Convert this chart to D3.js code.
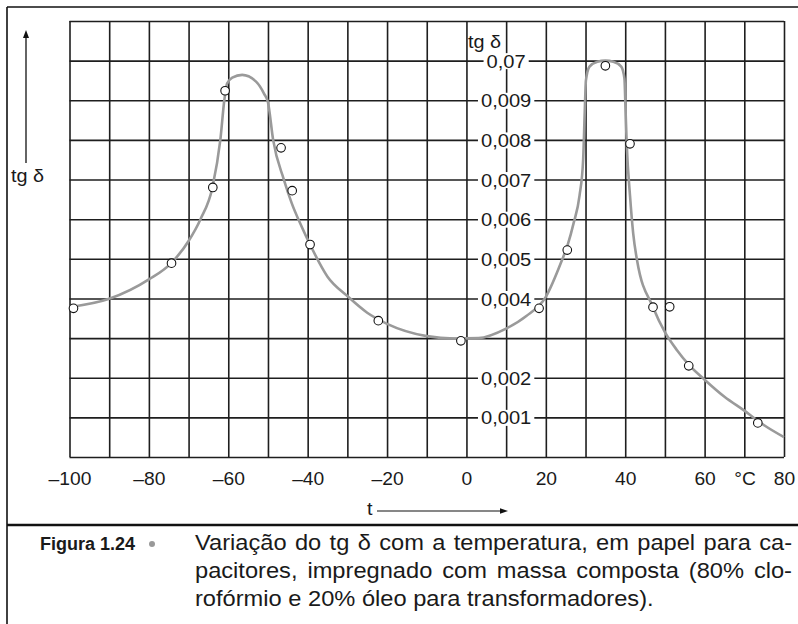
<!DOCTYPE html>
<html>
<head>
<meta charset="utf-8">
<script src="https://cdn.jsdelivr.net/npm/d3@7"></script>
<style>
  body { margin: 0; background: #fff; }
  text { font-family: "Liberation Sans", Arial, sans-serif; fill: #1a1a1a; }
</style>
</head>
<body>
<svg></svg>
<script>
// measured curve (t in °C, tg delta)
const curveT  = [-100, -90, -80, -74.3, -70, -67, -64, -62, -61, -60.3, -59, -56.5, -53, -51, -50, -48.7, -46, -44, -41.5, -39.4, -35, -30, -25, -20, -10, -3, 3, 10, 15, 20, 24, 25.5, 27, 28.5, 29.4, 29.8, 30.1, 31, 33, 35, 37, 39, 39.8, 40.1, 40.4, 41.2, 42, 43, 47, 50, 53, 56, 60, 65, 70, 75, 80];
const curveTg = [0.00378, 0.00399, 0.00448, 0.0049, 0.00545, 0.0060, 0.0068, 0.0080, 0.0090, 0.00942, 0.00957, 0.00964, 0.00947, 0.00917, 0.00895, 0.0080, 0.0070, 0.0064, 0.00581, 0.00536, 0.00455, 0.00406, 0.00364, 0.00336, 0.00305, 0.00299, 0.0030, 0.00324, 0.00355, 0.00404, 0.00495, 0.00535, 0.0059, 0.0066, 0.0075, 0.0087, 0.0095, 0.00985, 0.00997, 0.0100, 0.00997, 0.00985, 0.00955, 0.0087, 0.00785, 0.0066, 0.00565, 0.00495, 0.00378, 0.00315, 0.0027, 0.00233, 0.00195, 0.00152, 0.00117, 0.0008, 0.0005];

// measured points
const pointT  = [-99, -74.3, -63.9, -60.8, -46.7, -43.9, -39.4, -22.2, -1.4, 18.3, 25.4, 35.0, 41.2, 47.0, 51.2, 56.0, 73.4];
const pointTg = [0.00375, 0.00489, 0.0068, 0.00924, 0.0078, 0.00672, 0.00536, 0.00344, 0.00293, 0.00375, 0.00522, 0.00987, 0.0079, 0.00378, 0.00379, 0.0023, 0.00086];

const xTickValues = [-100, -80, -60, -40, -20, 0, 20, 40, 60, 80];
const xTickLabels = ['–100', '–80', '–60', '–40', '–20', '0', '20', '40', '60', '80'];
const yTickValues = [0.010, 0.009, 0.008, 0.007, 0.006, 0.005, 0.004, 0.002, 0.001];
const yTickLabels = ['0,07', '0,009', '0,008', '0,007', '0,006', '0,005', '0,004', '0,002', '0,001'];

const captionHead = 'Figura 1.24';
const captionLines = [
  'Variação do tg δ com a temperatura, em papel para ca-',
  'pacitores, impregnado com massa composta (80% clo-',
  'rofórmio e 20% óleo para transformadores).'
];

const width = 798, height = 624, sx = 1.1;
const x = d3.scaleLinear().domain([-100, 80]).range([69.5, 784]);
const y = d3.scaleLinear().domain([0, 0.011]).range([457, 21]);

const svg = d3.select('svg').attr('width', width).attr('height', height);

// frame
svg.append('line').attr('x1', 7).attr('y1', 7).attr('x2', width).attr('y2', 7)
    .attr('stroke', '#111').attr('stroke-width', 1.6);
svg.append('line').attr('x1', 7).attr('y1', 7).attr('x2', 7).attr('y2', height)
    .attr('stroke', '#111').attr('stroke-width', 1.6);
svg.append('line').attr('x1', 7).attr('y1', 525).attr('x2', width).attr('y2', 525)
    .attr('stroke', '#111').attr('stroke-width', 2.6);

// grid
let gx = svg.append('g').attr('transform', `translate(0,${y(0)})`)
    .call(d3.axisBottom(x).ticks(18).tickSize(-(y(0) - y(0.011))).tickFormat(''));
let gy = svg.append('g').attr('transform', `translate(${x(-100)},0)`)
    .call(d3.axisLeft(y).ticks(11).tickSize(-(x(80) - x(-100))).tickFormat(''));
[gx, gy].forEach(g => {
    g.select('.domain').remove();
    g.selectAll('line').attr('stroke', '#1e1e1e').attr('stroke-width', 1.6);
});

// y labels on the t=10 line
let yl = svg.append('g').attr('transform', `translate(${x(10)},0)`)
    .call(d3.axisRight(y).tickValues(yTickValues).tickSize(0).tickPadding(0)
        .tickFormat((d, i) => yTickLabels[i]));
yl.select('.domain').remove();
yl.selectAll('text')
    .attr('x', 0).attr('dy', null).attr('y', 6.6)
    .attr('text-anchor', 'middle')
    .attr('transform', `scale(${sx},1)`)
    .style('font-family', '"Liberation Sans", Arial, sans-serif')
    .style('font-size', '18.3px').attr('fill', '#1a1a1a');
yl.selectAll('.tick').each(function() {
    let t = d3.select(this).select('text');
    let w = t.node().getComputedTextLength() * sx;
    d3.select(this).insert('rect', 'text')
        .attr('x', -w / 2 - 3).attr('y', -8).attr('width', w + 6).attr('height', 16)
        .attr('fill', '#fff');
});

// x labels
let xl = svg.append('g').attr('transform', `translate(0,${y(0)})`)
    .call(d3.axisBottom(x).tickValues(xTickValues).tickSize(0)
        .tickFormat((d, i) => xTickLabels[i]));
xl.select('.domain').remove();
xl.selectAll('text')
    .attr('y', 28).attr('dy', null)
    .attr('transform', `scale(${sx},1)`)
    .style('font-family', '"Liberation Sans", Arial, sans-serif')
    .style('font-size', '17.5px').attr('fill', '#1a1a1a');

svg.append('text').attr('transform', `translate(745,485) scale(${sx},1)`)
    .attr('text-anchor', 'middle').style('font-size', '17.5px').text('°C');

// axis names
svg.append('text').attr('transform', `translate(468,48) scale(${sx},1)`)
    .style('font-size', '18px').text('tg δ');
svg.append('text').attr('transform', `translate(11,182) scale(${sx},1)`)
    .style('font-size', '18px').text('tg δ');
svg.append('text').attr('transform', `translate(367,515) scale(${sx},1)`)
    .style('font-size', '18px').text('t');

// arrows
svg.append('line').attr('x1', 26).attr('y1', 163).attr('x2', 26).attr('y2', 37)
    .attr('stroke', '#111').attr('stroke-width', 1.3);
svg.append('path').attr('d', 'M26,30 L23,38 L29,38 Z').attr('fill', '#111');
svg.append('line').attr('x1', 377).attr('y1', 511).attr('x2', 501).attr('y2', 511)
    .attr('stroke', '#111').attr('stroke-width', 1.2);
svg.append('path').attr('d', 'M508,511 L500,508.3 L500,513.7 Z').attr('fill', '#111');

// curve
let line = d3.line().x((d, i) => x(curveT[i])).y(d => y(d)).curve(d3.curveMonotoneX);
svg.append('path').datum(curveTg).attr('d', line)
    .attr('fill', 'none').attr('stroke', '#9a9a9a').attr('stroke-width', 2.6);

// points
svg.selectAll('.pt').data(pointTg).enter().append('circle')
    .attr('class', 'pt')
    .attr('cx', (d, i) => x(pointT[i])).attr('cy', d => y(d)).attr('r', 4.3)
    .attr('fill', '#fff').attr('stroke', '#111').attr('stroke-width', 1.1);

// caption
svg.append('text').attr('x', 40).attr('y', 550)
    .style('font-size', '18px').style('font-weight', 'bold').text(captionHead);
svg.append('circle').attr('cx', 152).attr('cy', 544).attr('r', 3).attr('fill', '#999');

const capX = 195, capRight = 792, capBase = [550, 578, 606];
captionLines.forEach((s, i) => {
    let t = svg.append('text')
        .attr('transform', `translate(${capX},${capBase[i]}) scale(${sx},1)`)
        .style('font-size', '21.5px').text(s);
    if (i < captionLines.length - 1) {
        let natural = t.node().getComputedTextLength();
        let spaces = s.split(' ').length - 1;
        let ws = ((capRight - capX) / sx - natural) / spaces;
        t.attr('word-spacing', ws);
    }
});
</script>
</body>
</html>
